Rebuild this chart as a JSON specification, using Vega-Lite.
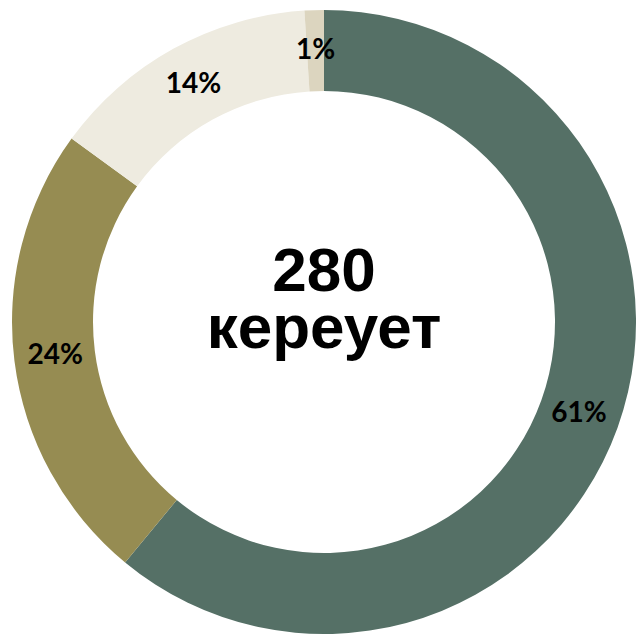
{
  "$schema": "https://vega.github.io/schema/vega-lite/v6.json",
  "width": 624,
  "height": 624,
  "autosize": {"type": "none"},
  "padding": {"left": 12, "top": 10, "right": 0, "bottom": 0},
  "background": "white",
  "view": {"stroke": null},
  "datasets": {
    "slices": [
      {"category": "A", "order": 1, "pct": 61, "label": "61%"},
      {"category": "B", "order": 2, "pct": 24, "label": "24%"},
      {"category": "C", "order": 3, "pct": 14, "label": "14%"},
      {"category": "D", "order": 4, "pct": 1, "label": "1%"}
    ],
    "center": [
      {"line": "280\nкереует"}
    ]
  },
  "layer": [
    {
      "data": {"name": "slices"},
      "mark": {"type": "arc", "outerRadius": 312, "innerRadius": 231},
      "encoding": {
        "theta": {"field": "pct", "type": "quantitative", "stack": true},
        "order": {"field": "order", "type": "quantitative"},
        "color": {
          "field": "category",
          "type": "nominal",
          "scale": {"domain": ["A", "B", "C", "D"], "range": ["#557066", "#968C52", "#EEEBE0", "#DCD5BF"]},
          "legend": null
        }
      }
    },
    {
      "data": {"name": "slices"},
      "mark": {"type": "text", "radius": 271, "font": "Lato", "fontWeight": "bold", "fontSize": 28, "color": "#000000", "baseline": "middle", "align": "center"},
      "encoding": {
        "theta": {"field": "pct", "type": "quantitative", "stack": true},
        "order": {"field": "order", "type": "quantitative"},
        "text": {"field": "label", "type": "nominal"}
      }
    },
    {
      "data": {"name": "center"},
      "mark": {"type": "text", "font": "Liberation Sans", "fontWeight": "bold", "fontSize": 62, "color": "#000000", "baseline": "alphabetic", "align": "center", "lineBreak": "\n", "lineHeight": 57, "dy": -31},
      "encoding": {"text": {"field": "line", "type": "nominal"}}
    }
  ]
}
